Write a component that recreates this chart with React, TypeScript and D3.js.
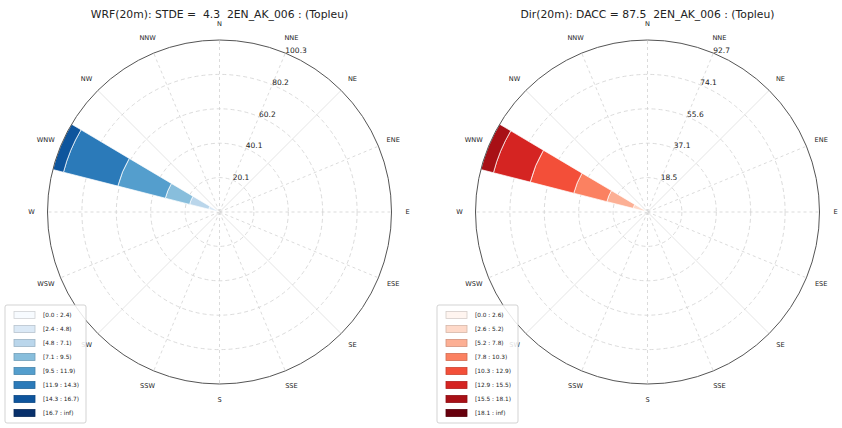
import React from "react";
import * as d3 from "d3";

const W = 842;
const H = 428;

// compass sectors, clockwise from north
const directions = ["N", "NNE", "NE", "ENE", "E", "ESE", "SE", "SSE", "S", "SSW", "SW", "WSW", "W", "WNW", "NW", "NNW"];
const dominantSector = "WNW";

// speed bin lower edges (last bin is open ended)
const speedEdgesWrf = [0.0, 2.4, 4.8, 7.1, 9.5, 11.9, 14.3, 16.7];
const speedEdgesDir = [0.0, 2.6, 5.2, 7.8, 10.3, 12.9, 15.5, 18.1];

// frequency (%) per speed bin in the dominant sector
const freqWrf = [1.5, 5.0, 11.5, 14.6, 28.6, 32.7, 6.4, 0.0];
const freqDir = [2.0, 6.0, 14.6, 18.4, 24.2, 20.45, 7.0, 0.0];

const titleWrf = "WRF(20m): STDE =  4.3  2EN_AK_006 : (Topleu)";
const titleDir = "Dir(20m): DACC = 87.5  2EN_AK_006 : (Topleu)";

const FONT = "DejaVu Sans, Liberation Sans, sans-serif";

type RoseProps = {
  cx: number;
  cy: number;
  title: string;
  freqs: number[];
  edges: number[];
  interp: (t: number) => string;
  legendX: number;
};

function Rose({ cx, cy, title, freqs, edges, interp, legendX }: RoseProps) {
  const R = 172;
  const rMax = d3.sum(freqs);
  const r = d3.scaleLinear().domain([0, rMax]).range([0, R]);
  const nGrid = 5;
  const gridVals = d3.range(1, nGrid + 1).map((i) => (rMax * i) / nGrid);
  const fmt = d3.format(".1f");
  const colors = d3.range(freqs.length).map((i) => interp(i / (freqs.length - 1)));
  const step = 360 / directions.length;
  const toRad = (deg: number) => (deg * Math.PI) / 180;
  const pt = (deg: number, rad: number): [number, number] => [
    Math.sin(toRad(deg)) * rad,
    -Math.cos(toRad(deg)) * rad,
  ];

  const sectorAngle = directions.indexOf(dominantSector) * step;
  const halfWidth = 8.2;
  const cum = d3.cumsum(freqs);
  const arc = d3.arc();

  const labelAngle = 22.5;
  const labels = edges.map((e, i) =>
    i < edges.length - 1 ? `[${fmt(e)} : ${fmt(edges[i + 1])})` : `[${fmt(e)} : inf)`
  );

  return (
    <g>
      <text
        x={cx}
        y={18}
        textAnchor="middle"
        fontSize={10.8}
        fontFamily={FONT}
        fill="#222"
        style={{ whiteSpace: "pre" }}
      >
        {title}
      </text>
      <g transform={`translate(${cx},${cy})`}>
        {/* angular grid */}
        {directions.map((d, i) => {
          const a = i * step;
          const [x, y] = pt(a, R);
          const diag = i % 4 === 2;
          return (
            <line
              key={d}
              x1={0}
              y1={0}
              x2={x}
              y2={y}
              stroke={diag ? "#dedede" : "#d2d2d2"}
              strokeWidth={0.8}
              strokeDasharray={diag ? undefined : "3,3"}
            />
          );
        })}
        {/* radial grid */}
        {gridVals.slice(0, -1).map((v) => (
          <circle key={v} r={r(v)} fill="none" stroke="#d2d2d2" strokeWidth={0.8} strokeDasharray="4,3" />
        ))}
        {/* stacked bars */}
        {freqs.map((f, i) => {
          if (f <= 0) return null;
          const inner = r(cum[i] - f);
          const outer = r(cum[i]);
          const dPath = arc({
            innerRadius: inner,
            outerRadius: outer,
            startAngle: toRad(sectorAngle - halfWidth),
            endAngle: toRad(sectorAngle + halfWidth),
          } as any);
          return <path key={i} d={dPath || ""} fill={colors[i]} stroke="#fff" strokeWidth={0.7} />;
        })}
        {/* outer spine */}
        <circle r={R} fill="none" stroke="#555" strokeWidth={1} />
        {/* radial tick labels */}
        {gridVals.map((v) => {
          const [x, y] = pt(labelAngle, r(v));
          return (
            <text key={v} x={x} y={y} fontSize={7.5} fontFamily={FONT} fill="#222">
              {fmt(v)}
            </text>
          );
        })}
        {/* compass labels */}
        {directions.map((d, i) => {
          const [x, y] = pt(i * step, 188);
          return (
            <text
              key={d}
              x={x}
              y={y}
              textAnchor="middle"
              dominantBaseline="central"
              fontSize={6.6}
              fontFamily={FONT}
              fill="#222"
            >
              {d}
            </text>
          );
        })}
      </g>
      {/* legend */}
      <g transform={`translate(${legendX},305)`}>
        <rect x={0} y={0} width={81} height={118} rx={2} fill="#fff" fillOpacity={0.85} stroke="#c8c8c8" strokeWidth={0.8} />
        {labels.map((lab, i) => {
          const y = 10 + i * 14;
          const c = colors[i];
          const edge = d3.color(c)!.darker(0.5).formatHex();
          return (
            <g key={lab}>
              <rect x={9} y={y - 3.5} width={21} height={7} fill={c} stroke={edge} strokeWidth={0.8} />
              <text x={38} y={y} dominantBaseline="central" fontSize={5.8} fontFamily={FONT} fill="#222">
                {lab}
              </text>
            </g>
          );
        })}
      </g>
    </g>
  );
}

export default function App() {
  return (
    <svg
      width={W}
      height={H}
      viewBox={`0 0 ${W} ${H}`}
      style={{ position: "absolute", left: 0, top: 0, background: "#fff" }}
    >
      <rect width={W} height={H} fill="#fff" />
      <Rose cx={219.5} cy={212} title={titleWrf} freqs={freqWrf} edges={speedEdgesWrf} interp={d3.interpolateBlues} legendX={5} />
      <Rose cx={647.5} cy={212} title={titleDir} freqs={freqDir} edges={speedEdgesDir} interp={d3.interpolateReds} legendX={437} />
    </svg>
  );
}
